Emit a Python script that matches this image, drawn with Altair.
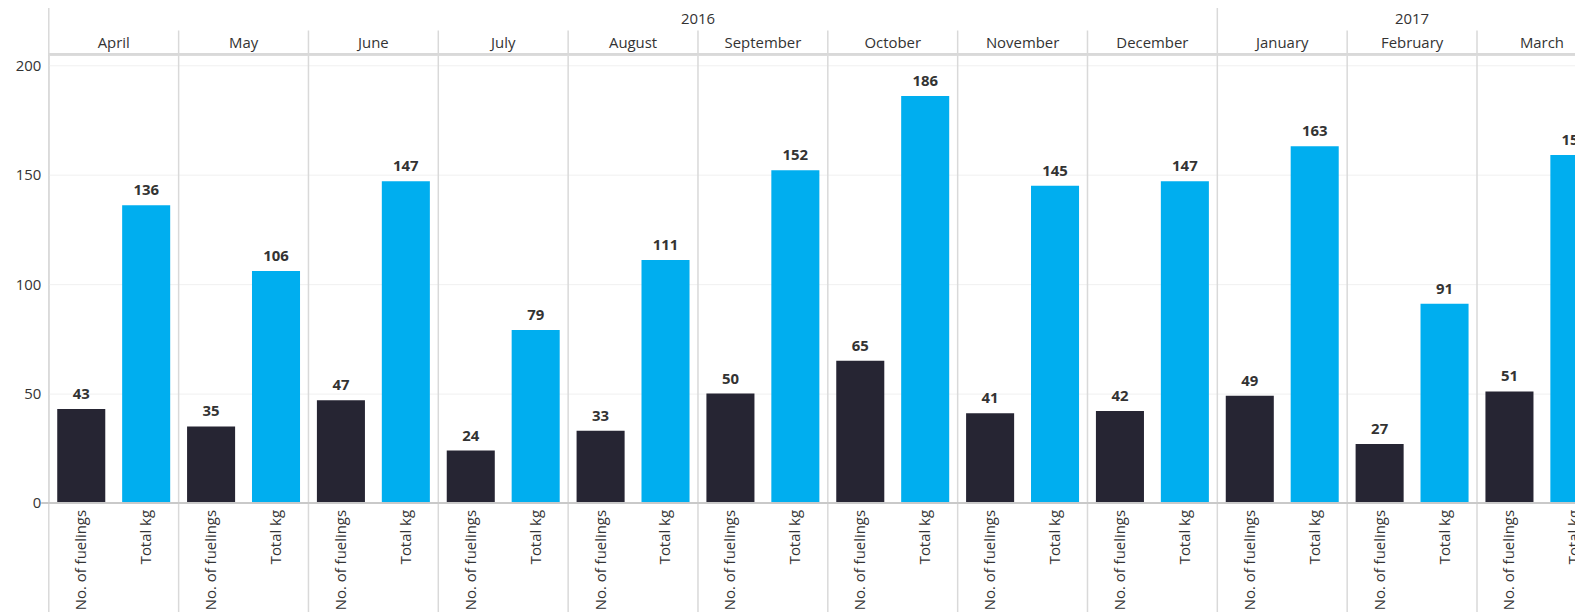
import altair as alt
import pandas as pd

# ---- data ----
months = ["April", "May", "June", "July", "August", "September", "October",
          "November", "December", "January", "February", "March"]
month_year = ["2016"] * 9 + ["2017"] * 3
measures = ["No. of fuelings", "Total kg"]
fuelings = [43, 35, 47, 24, 33, 50, 65, 41, 42, 49, 27, 51]
total_kg = [136, 106, 147, 79, 111, 152, 186, 145, 147, 163, 91, 159]
y_ticks = [0, 50, 100, 150, 200]

# year headers: anchor month and where inside that month the year centre falls
year_labels = ["2016", "2017"]
year_anchor = ["August", "February"]
year_band = [1.0, 0.5]

rows = []
for m, y, f, k in zip(months, month_year, fuelings, total_kg):
    rows.append({"month": m, "year": y, "measure": measures[0], "value": f})
    rows.append({"month": m, "year": y, "measure": measures[1], "value": k})
df = pd.DataFrame(rows)
mdf = pd.DataFrame({"month": months, "year": month_year})
first_of_year = mdf.groupby("year", sort=False).head(1)["month"].tolist()
mdf["yearstart"] = mdf["month"].isin(first_of_year)

# ---- layout ----
W, H = 1534, 451
FULL_RANGE = 1566
FONT = "Open Sans"
TXT = "#333333"
LINE = "#d9d9d9"

xs = alt.Scale(domain=months, range=[0, FULL_RANGE], paddingInner=0, paddingOuter=0)
X = alt.X("month:N", sort=months, scale=xs, axis=None)
XO = alt.XOffset("measure:N", sort=measures,
                 scale=alt.Scale(domain=measures, paddingInner=0.26, paddingOuter=0.13))
ys = alt.Scale(domain=[0, 205], nice=False, zero=True)

base = alt.Chart(df)

bars = base.mark_bar().encode(
    x=X, xOffset=XO,
    y=alt.Y("value:Q", scale=ys,
            axis=alt.Axis(values=y_ticks, title=None, domain=False, ticks=False,
                          labelFont=FONT, labelFontSize=15, labelColor=TXT,
                          labelPadding=8, gridColor="#f0f0f0", gridWidth=1)),
    color=alt.Color("measure:N", scale=alt.Scale(domain=measures,
                                                 range=["#262533", "#00aeef"]),
                    legend=None),
)

bar_text = base.mark_text(baseline="bottom", dy=-7, font=FONT, fontSize=15,
                          fontWeight="bold", color=TXT).encode(
    x=X, xOffset=XO, y=alt.Y("value:Q", scale=ys), text=alt.Text("value:Q"))

bottom_labels = base.mark_text(angle=270, align="right", baseline="middle",
                               font=FONT, fontSize=15, color=TXT).encode(
    x=X, xOffset=XO, y=alt.value(H + 7), text="measure:N")

mbase = alt.Chart(mdf)
month_sep = mbase.transform_filter("!datum.yearstart").mark_rule(
    color=LINE, strokeWidth=1.5).encode(
    x=alt.X("month:N", sort=months, scale=xs, axis=None, bandPosition=0),
    y=alt.value(-24), y2=alt.value(H + 160))
year_sep = mbase.transform_filter("datum.yearstart").mark_rule(
    color=LINE, strokeWidth=1.5).encode(
    x=alt.X("month:N", sort=months, scale=xs, axis=None, bandPosition=0),
    y=alt.value(-60), y2=alt.value(H + 160))

month_head = mbase.mark_text(baseline="middle", font=FONT, fontSize=15,
                             color=TXT).encode(
    x=X, y=alt.value(-11), text="month:N")

ydf = pd.DataFrame({"year": year_labels, "month": year_anchor, "band": year_band})
year_heads = []
for i in range(len(year_labels)):
    year_heads.append(
        alt.Chart(ydf.iloc[[i]]).mark_text(baseline="middle", font=FONT,
                                           fontSize=15, color=TXT).encode(
            x=alt.X("month:N", sort=months, scale=xs, axis=None,
                    bandPosition=year_band[i]),
            y=alt.value(-35), text="year:N"))

hdr_line = mbase.mark_rule(color=LINE, strokeWidth=2).encode(
    y=alt.value(0), x=alt.value(0), x2=alt.value(W))
zero_line = mbase.mark_rule(color="#c8c8c8", strokeWidth=1.5).encode(
    y=alt.value(H), x=alt.value(-7), x2=alt.value(W))

chart = alt.layer(
    bars, month_sep, year_sep, hdr_line, zero_line, bar_text, bottom_labels,
    month_head, *year_heads
).properties(
    width=W, height=H,
    autosize=alt.AutoSizeParams(type="none"),
    padding={"left": 41, "top": 45, "right": 0, "bottom": 108},
).configure_view(stroke=None).configure(background="white")

chart.save("out.html", embed_options={"renderer": "svg", "actions": False})
